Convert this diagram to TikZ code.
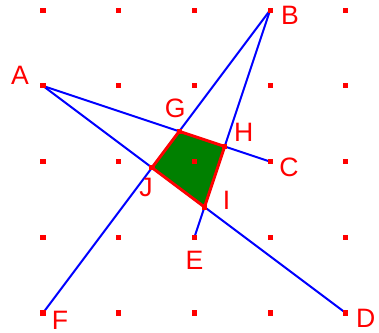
\documentclass[tikz,border=0pt]{standalone}
\usepackage{fontspec}
\setmainfont{Liberation Sans}
\usetikzlibrary{calc}
\definecolor{lblue}{RGB}{0,0,255}
\definecolor{lred}{RGB}{255,0,0}
\definecolor{lgreen}{RGB}{0,128,0}
\tikzset{
  seg/.style={draw=lblue, line width=0.75pt},
  quad/.style={draw=lred, fill=lgreen, line width=1.1pt, line join=round},
  dot/.style={fill=lred, minimum size=1.9pt, inner sep=0pt, outer sep=0pt, rectangle},
  lbl/.style={text=lred, font=\fontsize{10}{12}\selectfont, inner sep=0pt}
}
\begin{document}
\begin{tikzpicture}[x=1cm,y=1cm]
\useasboundingbox (-0.568,-0.251) rectangle (4.439,4.135);
% points
\coordinate (A) at (0,3);
\coordinate (B) at (3,4);
\coordinate (C) at (3,2);
\coordinate (D) at (4,0);
\coordinate (E) at (2,1);
\coordinate (F) at (0,0);
\coordinate (G) at (1.8,2.4);
\coordinate (H) at (2.4,2.2);
\coordinate (I) at (2.13333,1.4);
\coordinate (J) at (1.44,1.92);
% lines
\draw[seg] (A) -- (C);
\draw[seg] (A) -- (D);
\draw[seg] (B) -- (F);
\draw[seg] (B) -- (E);
% quadrilateral
\draw[quad] (G) -- (H) -- (I) -- (J) -- cycle;
% grid dots
\foreach \i in {0,...,4}{
  \foreach \j in {0,...,4}{
    \node[dot] (g\i\j) at (\i,\j) {};
  }
}
\foreach \p in {G,H,I,J}{
  \node[dot] (d\p) at (\p) {};
}
% labels
\node[lbl] (lA) at ($(A)+(-0.304,0.145)$) {A};
\node[lbl] (lB) at ($(B)+(0.264,-0.066)$) {B};
\node[lbl] (lC) at ($(C)+(0.251,-0.079)$) {C};
\node[lbl] (lD) at ($(D)+(0.264,-0.066)$) {D};
\node[lbl] (lE) at ($(E)+(0,-0.304)$) {E};
\node[lbl] (lF) at ($(F)+(0.225,-0.092)$) {F};
\node[lbl] (lG) at ($(G)+(-0.053,0.304)$) {G};
\node[lbl] (lH) at ($(H)+(0.251,0.185)$) {H};
\node[lbl] (lI) at ($(I)+(0.291,0.092)$) {I};
\node[lbl] (lJ) at ($(J)+(-0.079,-0.264)$) {J};
\end{tikzpicture}
\end{document}
